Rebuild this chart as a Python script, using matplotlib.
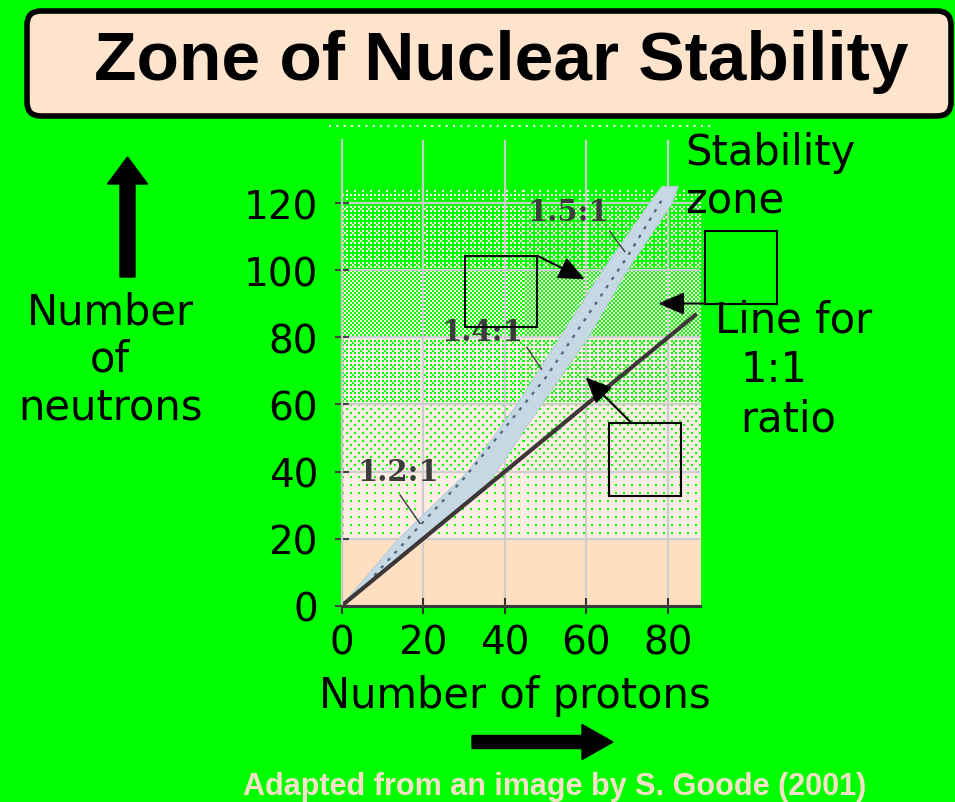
import numpy as np
import matplotlib
matplotlib.use("Agg")
import matplotlib.pyplot as plt
from matplotlib.patches import Polygon, Rectangle, FancyBboxPatch, FancyArrow

# stability band, upper (left) and lower (right) edges
upper_z = [0, 14, 31, 43, 53.5, 64, 75.5, 78.5]
upper_n = [0, 20, 40, 60, 80, 100, 120, 125]
lower_z = [0, 35, 38, 49, 60.5, 70, 81, 82.5]
lower_n = [0, 35, 40, 60, 80, 100, 120, 125]
# dark trace of the stable nuclei inside the band
trace_z = [8, 20, 30, 40, 50, 60, 70, 79]
trace_n = [9, 25, 38, 53, 68, 86, 104, 122]
# line for the 1:1 ratio
ratio_z = [0, 87]
ratio_n = [0, 87]

ratio_labels = ["1.2:1", "1.4:1", "1.5:1"]
label_z = [13.8, 34.4, 55.5]
label_n = [40, 81.8, 117.6]
leader_from = [(14.3, 33), (45.4, 77), (65.7, 111.6)]
leader_to = [(19.2, 24.5), (49, 70.5), (69.4, 105.6)]

x_ticks = [0, 20, 40, 60, 80]
y_ticks = [0, 20, 40, 60, 80, 100, 120]

# green speckle of the background, by band of neutron number
shade_edges = [0, 20, 40, 60, 80, 100, 120, 124.5]
shade_levels = [0.0, 0.06, 0.12, 0.3, 0.5, 0.68, 0.8]

GREEN = "#00ff00"

plt.rcParams['font.family'] = ['DejaVu Sans']

fig = plt.figure(figsize=(9.55, 8.03), dpi=100, facecolor=GREEN)
ax = fig.add_axes([341.7 / 955, 196.3 / 803, 358.3 / 955, 465.5 / 803])
ax.set_facecolor("none")


def bayer(k):
    m = np.array([[0, 2], [3, 1]])
    while m.shape[0] < k:
        m = np.block([[4 * m, 4 * m + 2], [4 * m + 3, 4 * m + 1]])
    return (m + 0.5) / m.size


# ordered dither, one cell = about 2 screen pixels
H, W = 209, 179
rows_n = shade_edges[-1] - (np.arange(H) + 0.5) * shade_edges[-1] / H
lev = np.array(shade_levels)[np.searchsorted(shade_edges, rows_n, side='right') - 1]
thr = np.tile(bayer(4), (H // 4 + 1, W // 4 + 1))[:H, :W]
mask = thr < lev[:, None]
low = np.array([255, 223, 194]) / 255
high = np.array([255, 236, 226]) / 255
grn = np.array([0, 255, 0]) / 255
img = np.where((rows_n < 20)[:, None, None], low, high) * np.ones((H, W, 3))
img[mask] = grn
ax.imshow(img, extent=[0, 87.84, 0, shade_edges[-1]], aspect='auto',
          interpolation='nearest', interpolation_stage='rgba', zorder=0)

# band
band = list(zip(upper_z, upper_n)) + list(zip(lower_z, lower_n))[::-1]
ax.add_patch(Polygon(band, closed=True, facecolor="#c5d8e4", edgecolor="#b8ccd8",
                     lw=0.8, zorder=1))
ax.plot(trace_z, trace_n, color="#52667a", lw=1.6, ls=(0, (1.5, 3)), zorder=1.5)
ax.plot(ratio_z, ratio_n, color="#3d3636", lw=3, solid_capstyle='butt', zorder=2)

for t, z, n, a, b in zip(ratio_labels, label_z, label_n, leader_from, leader_to):
    ax.text(z, n, t, family='DejaVu Serif', weight='bold', fontsize=21,
            color="#3c3c3c", ha='center', va='center', zorder=4)
    ax.plot([a[0], b[0]], [a[1], b[1]], color="#3c3c3c", lw=1, zorder=4)

# empty label boxes with arrows
boxes = [(30.2, 83.0, 17.8, 21.3), (89.1, 90.1, 17.7, 21.5), (65.5, 32.8, 17.7, 21.6)]
arrows = [((48.0, 104.3), (59.6, 97.3)), ((89.1, 90.1), (77.6, 90.1)),
          ((71.1, 54.4), (59.8, 68.1))]
for (bx, by, bw, bh), (start, tip) in zip(boxes, arrows):
    ax.add_patch(Rectangle((bx, by), bw, bh, fill=False, ec='black', lw=1.5,
                           clip_on=False, zorder=5))
    ax.annotate('', xy=tip, xytext=start, annotation_clip=False, zorder=5,
                arrowprops=dict(arrowstyle='-|>,head_length=0.8,head_width=0.35',
                                mutation_scale=20, color='black', lw=1.5,
                                shrinkA=0, shrinkB=0))

ax.set_xlim(0, 87.84)
ax.set_ylim(0, 138.8)
ax.set_xticks(x_ticks)
ax.set_yticks(y_ticks)
ax.set_axisbelow(True)
ax.grid(color="#cdcdcd", lw=1.6)
for s in ['top', 'right']:
    ax.spines[s].set_visible(False)
ax.spines['left'].set_color("#c8c8c8")
ax.spines['left'].set_linewidth(1.5)
ax.spines['bottom'].set_color("#3a3a3a")
ax.spines['bottom'].set_linewidth(2.2)
ax.tick_params(axis='y', direction='inout', length=10, width=1.5, color="#444444",
               pad=12, labelsize=28)
ax.tick_params(axis='x', direction='inout', length=12, width=1.5, color="#333333",
               pad=7, labelsize=28)

# overlay in pixel coordinates for title, labels and big arrows
ov = fig.add_axes([0, 0, 1, 1], zorder=5)
ov.set_xlim(0, 955)
ov.set_ylim(803, 0)
ov.axis('off')

ov.add_patch(FancyBboxPatch((27, 12), 924, 105, boxstyle='round,pad=0,rounding_size=14',
                            fc="#fee3cd", ec='black', lw=4))
ov.text(501, 80, "Zone of Nuclear Stability", family='Liberation Sans', weight='bold',
        fontsize=50, ha='center', va='baseline')

ov.plot([329, 713], [127, 127], color='white', lw=1.5, ls=(0, (1, 2.5)))

for t, y in zip(["Number", "of", "neutrons"], [325, 372, 420]):
    ov.text(110, y, t, fontsize=30, ha='center', va='baseline')
ov.add_patch(FancyArrow(127.5, 278, 0, -120, width=15, head_width=40, head_length=27,
                        length_includes_head=True, color='black'))

ov.text(515, 708, "Number of protons", fontsize=30, ha='center', va='baseline')
ov.add_patch(FancyArrow(472, 743, 141, 0, width=13, head_width=35, head_length=31,
                        length_includes_head=True, color='black'))

ov.text(685, 165, "Stability", fontsize=30, ha='left', va='baseline')
ov.text(685, 213, "zone", fontsize=30, ha='left', va='baseline')
ov.text(715, 333, "Line for", fontsize=30, ha='left', va='baseline')
ov.text(740, 382, "1:1", fontsize=30, ha='left', va='baseline')
ov.text(740, 432, "ratio", fontsize=30, ha='left', va='baseline')

ov.text(555, 795, "Adapted from an image by S. Goode (2001)", family='Liberation Sans',
        weight='bold', fontsize=22, color="#fde0c9", ha='center', va='baseline')

fig.savefig("out.png", dpi=100, facecolor=GREEN)
